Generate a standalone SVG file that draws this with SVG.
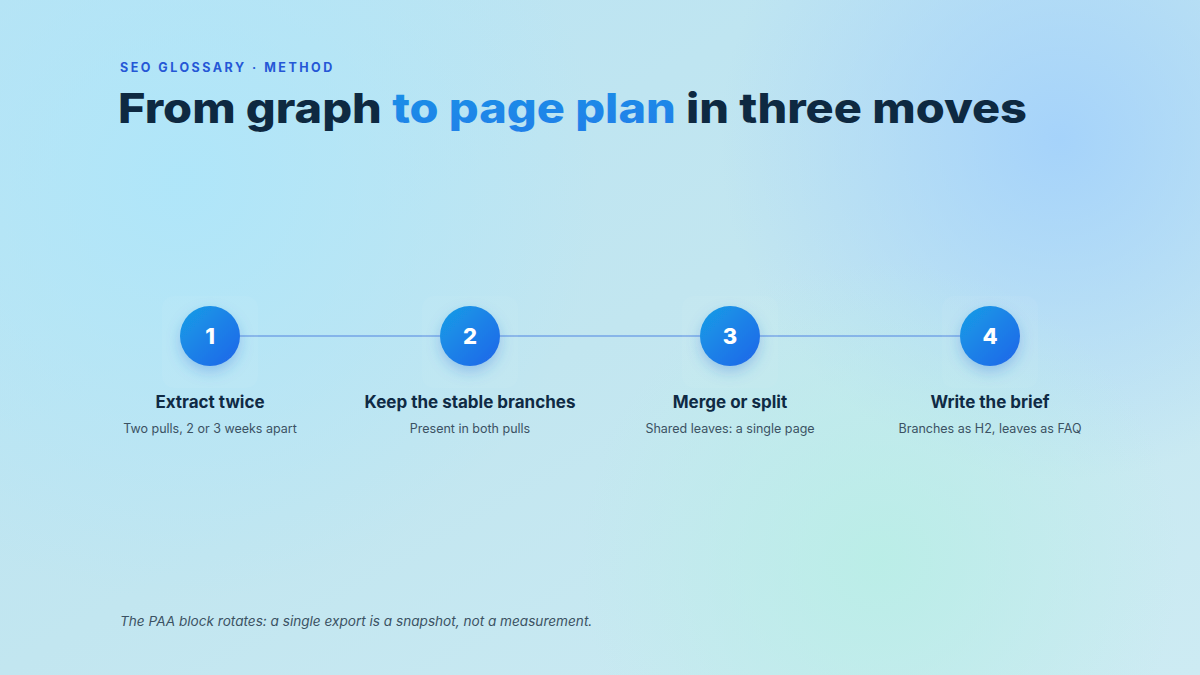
<svg xmlns="http://www.w3.org/2000/svg" width="1200" height="675" viewBox="0 0 1200 675">
  <defs>
    <linearGradient id="bg" x1="0" y1="0" x2="1" y2="1">
      <stop offset="0" stop-color="#b9e3f3"/>
      <stop offset="0.5" stop-color="#c2e6f0"/>
      <stop offset="1" stop-color="#cdebf3"/>
    </linearGradient>
    <radialGradient id="blobA" cx="180" cy="180" r="420" gradientUnits="userSpaceOnUse">
      <stop offset="0" stop-color="#aee6fa" stop-opacity="0.9"/>
      <stop offset="1" stop-color="#aee6fa" stop-opacity="0"/>
    </radialGradient>
    <radialGradient id="blobB" cx="1060" cy="140" r="340" gradientUnits="userSpaceOnUse">
      <stop offset="0" stop-color="#a4d2fb" stop-opacity="0.95"/>
      <stop offset="1" stop-color="#a4d2fb" stop-opacity="0"/>
    </radialGradient>
    <radialGradient id="blobC" cx="880" cy="560" r="300" gradientUnits="userSpaceOnUse">
      <stop offset="0" stop-color="#b9eee6" stop-opacity="0.9"/>
      <stop offset="1" stop-color="#b9eee6" stop-opacity="0"/>
    </radialGradient>
    <linearGradient id="disc" x1="0" y1="0" x2="1" y2="1">
      <stop offset="0" stop-color="#179ee6"/>
      <stop offset="1" stop-color="#2164e9"/>
    </linearGradient>
    <linearGradient id="accent" x1="0" y1="0" x2="1" y2="1">
      <stop offset="0" stop-color="#1796e6"/>
      <stop offset="1" stop-color="#2478ea"/>
    </linearGradient>
    <filter id="glow" x="-60%" y="-60%" width="220%" height="220%">
      <feDropShadow dx="0" dy="6" stdDeviation="7" flood-color="#2a6fd8" flood-opacity="0.3"/>
    </filter>
    <style>
      .eyebrow{font-family:"Inter","Liberation Sans",sans-serif;font-weight:700;font-size:12.5px;letter-spacing:2.5px;fill:#2557d6}
      .title{font-family:"Inter","Liberation Sans",sans-serif;font-weight:800;font-size:41px;fill:#0e2941}
      .num{font-family:"Inter","Liberation Sans",sans-serif;font-weight:800;font-size:22px;fill:#ffffff;text-anchor:middle}
      .head{font-family:"Inter","Liberation Sans",sans-serif;font-weight:700;font-size:17px;fill:#0f2a44;text-anchor:middle}
      .sub{font-family:"Inter","Liberation Sans",sans-serif;font-weight:400;font-size:12.5px;fill:#3b5263;text-anchor:middle}
      .note{font-family:"Inter","Liberation Sans",sans-serif;font-style:italic;font-size:13.6px;fill:#3b5263}
      .card{fill:#ffffff;fill-opacity:0.045}
      .link{stroke:#6f9fe6;stroke-width:2;stroke-opacity:0.7;fill:none}
    </style>
  </defs>

  <rect width="1200" height="675" fill="url(#bg)"/>
  <rect width="1200" height="675" fill="url(#blobA)"/>
  <rect width="1200" height="675" fill="url(#blobB)"/>
  <rect width="1200" height="675" fill="url(#blobC)"/>

  <text class="eyebrow" x="120" y="72">SEO GLOSSARY · METHOD</text>
  <text class="title" x="118" y="123" textLength="909" lengthAdjust="spacingAndGlyphs">From graph <tspan fill="url(#accent)">to page plan</tspan> in three moves</text>

  <g id="connectors">
    <line class="link" x1="240" y1="336" x2="440" y2="336"/>
    <line class="link" x1="500" y1="336" x2="700" y2="336"/>
    <line class="link" x1="760" y1="336" x2="960" y2="336"/>
  </g>

  <g id="step1">
    <rect class="card" x="162" y="296" width="96" height="92" rx="12"/>
    <circle cx="210" cy="336" r="30" fill="url(#disc)" filter="url(#glow)"/>
    <text class="num" x="210" y="344">1</text>
    <text class="head" x="210" y="408">Extract twice</text>
    <text class="sub" x="210" y="433">Two pulls, 2 or 3 weeks apart</text>
  </g>
  <g id="step2">
    <rect class="card" x="422" y="296" width="96" height="92" rx="12"/>
    <circle cx="470" cy="336" r="30" fill="url(#disc)" filter="url(#glow)"/>
    <text class="num" x="470" y="344">2</text>
    <text class="head" x="470" y="408">Keep the stable branches</text>
    <text class="sub" x="470" y="433">Present in both pulls</text>
  </g>
  <g id="step3">
    <rect class="card" x="682" y="296" width="96" height="92" rx="12"/>
    <circle cx="730" cy="336" r="30" fill="url(#disc)" filter="url(#glow)"/>
    <text class="num" x="730" y="344">3</text>
    <text class="head" x="730" y="408">Merge or split</text>
    <text class="sub" x="730" y="433">Shared leaves: a single page</text>
  </g>
  <g id="step4">
    <rect class="card" x="942" y="296" width="96" height="92" rx="12"/>
    <circle cx="990" cy="336" r="30" fill="url(#disc)" filter="url(#glow)"/>
    <text class="num" x="990" y="344">4</text>
    <text class="head" x="990" y="408">Write the brief</text>
    <text class="sub" x="990" y="433">Branches as H2, leaves as FAQ</text>
  </g>

  <text class="note" x="120" y="626">The PAA block rotates: a single export is a snapshot, not a measurement.</text>
</svg>
